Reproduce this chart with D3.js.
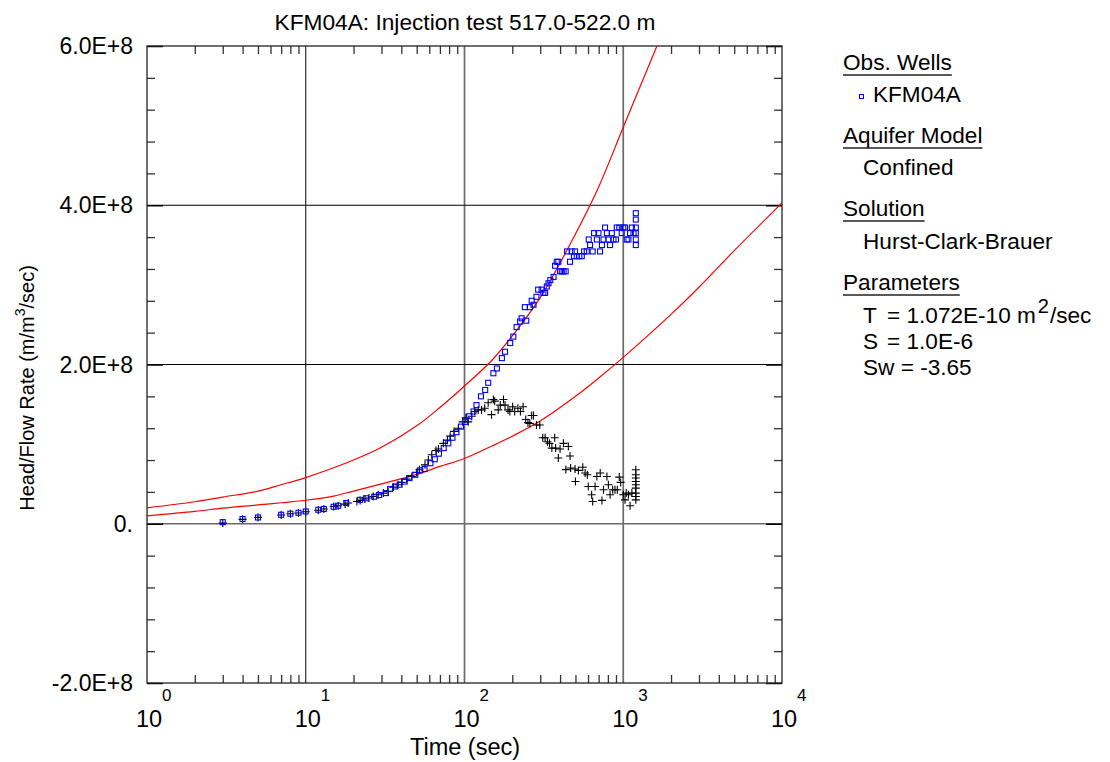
<!DOCTYPE html>
<html>
<head>
<meta charset="utf-8">
<script src="https://cdn.jsdelivr.net/npm/d3@7"></script>
<style>
  body { margin: 0; background: #fff; }
  svg text { font-family: Arial, "Liberation Sans", sans-serif; fill: #000; }
</style>
</head>
<body>
<svg id="chart" width="1110" height="762"></svg>
<script>
// ---- axis ticks and labels ----
const xMajorTicks = [1, 10, 100, 1000, 10000];
const xTickExponents = ["0", "1", "2", "3", "4"];
const yMajorTicks = [6e8, 4e8, 2e8, 0, -2e8];
const yTickLabels = ["6.0E+8", "4.0E+8", "2.0E+8", "0.", "-2.0E+8"];

// ---- Hurst-Clark-Brauer type curves (time in s, head/flow rate) ----
const hcbTimeA = [1, 2, 3, 5, 7, 10, 20, 30, 50, 70, 100, 150, 200, 300, 500, 700, 1000, 1630];
const hcbCurveA = [2.0e7, 2.76e7, 3.35e7, 4.1e7, 4.9e7, 5.8e7, 8.0e7, 9.6e7, 1.23e8, 1.46e8, 1.73e8, 2.06e8, 2.36e8, 2.84e8, 3.64e8, 4.23e8, 4.98e8, 6.0e8];
const hcbTimeB = [1, 2, 3, 5, 7, 10, 15, 20, 30, 50, 70, 100, 150, 200, 300, 500, 700, 1000, 2000, 3000, 5000, 10000];
const hcbCurveB = [1.0e7, 1.55e7, 1.96e7, 2.36e7, 2.64e7, 2.95e7, 3.48e7, 4.1e7, 5.0e7, 6.2e7, 7.2e7, 8.2e7, 9.8e7, 1.10e8, 1.29e8, 1.6e8, 1.83e8, 2.09e8, 2.63e8, 2.97e8, 3.43e8, 4.03e8];

// ---- KFM04A observations: head / flow rate ----
const obsTime = [3, 4, 5, 7, 8, 9, 10, 12, 13, 15, 16, 18, 22, 24, 27, 29, 32, 34, 36.5, 39,
  42, 45, 49, 52.5, 56, 61, 65, 69, 74, 79, 84, 89, 95, 101, 107, 114, 119, 127, 135, 141,
  152, 160, 172, 180, 194, 203, 213, 224, 229, 240, 245, 258, 265, 272, 284, 291, 306, 314, 322, 330,
  338, 347, 364, 372, 381, 390, 400, 410, 421, 434, 443, 462, 473, 489, 497, 509, 529, 548, 567, 589,
  606, 618, 642, 655, 682, 698, 714, 734, 751, 768, 789, 806, 826, 847, 868, 900, 910, 944, 978, 1000,
  1026, 1052, 1078, 1104, 1133, 1161, 1200, 1200, 1200, 1200, 1200, 1200];
const obsHeadFlow = [2.0e6, 5.9e6, 7.9e6, 1.13e7, 1.26e7, 1.38e7, 1.54e7, 1.76e7, 1.85e7, 2.13e7, 2.26e7, 2.6e7, 3.0e7, 3.2e7, 3.4e7, 3.6e7, 3.85e7, 4.36e7, 4.68e7, 4.9e7,
  5.3e7, 5.74e7, 6.15e7, 6.7e7, 6.87e7, 7.6e7, 8.1e7, 8.8e7, 9.5e7, 1.01e8, 1.08e8, 1.15e8, 1.22e8, 1.28e8, 1.35e8, 1.41e8, 1.49e8, 1.6e8, 1.68e8, 1.77e8,
  1.89e8, 1.95e8, 2.08e8, 2.16e8, 2.27e8, 2.35e8, 2.47e8, 2.54e8, 2.58e8, 2.72e8, 2.55e8, 2.72e8, 2.80e8, 2.75e8, 2.85e8, 2.94e8, 2.94e8, 2.90e8, 2.90e8, 2.98e8,
  3.02e8, 3.06e8, 3.10e8, 3.24e8, 3.29e8, 3.29e8, 3.17e8, 3.17e8, 3.17e8, 3.17e8, 3.42e8, 3.29e8, 3.42e8, 3.36e8, 3.42e8, 3.36e8, 3.36e8, 3.36e8, 3.42e8, 3.42e8,
  3.57e8, 3.50e8, 3.42e8, 3.65e8, 3.57e8, 3.65e8, 3.42e8, 3.50e8, 3.57e8, 3.72e8, 3.65e8, 3.57e8, 3.50e8, 3.65e8, 3.57e8, 3.57e8, 3.72e8, 3.72e8, 3.65e8, 3.72e8,
  3.72e8, 3.57e8, 3.57e8, 3.65e8, 3.72e8, 3.65e8, 3.90e8, 3.82e8, 3.72e8, 3.65e8, 3.57e8, 3.50e8];

// ---- KFM04A derivative ----
const derivTime = [3, 4, 5, 7, 8, 9, 10, 12, 13, 15, 16, 17.7, 18.5, 21, 22, 23.6, 25, 26.6, 28.6, 30.8,
  33, 35.6, 38.2, 40.2, 43.2, 46.5, 50, 52, 56.4, 59.2, 62.2, 66.1, 68.5, 73.6, 78.1, 81.3, 86, 91.5, 97.4, 102,
  105.6, 111, 116, 122, 128, 134, 141, 148, 152, 155, 163, 168, 176, 180, 188, 193, 201, 207, 217, 225,
  234, 243, 251, 258, 265, 272, 284, 298, 311, 322, 333, 343, 355, 370, 375, 390, 400, 420, 435, 451,
  462, 466, 497, 500, 522, 556, 575, 594, 602, 632, 642, 665, 682, 716, 734, 751, 789, 806, 826, 858,
  887, 917, 944, 963, 1000, 1026, 1043, 1078, 1104, 1133, 1200, 1200, 1200, 1200, 1200, 1200, 1200, 1200, 1200];
const derivValue = [0.8e6, 5.5e6, 8.0e6, 1.1e7, 1.25e7, 1.35e7, 1.5e7, 1.7e7, 1.85e7, 2.17e7, 2.26e7, 2.47e7, 2.6e7, 2.8e7, 2.93e7, 3.1e7, 3.23e7, 3.43e7, 3.64e7, 3.85e7,
  4.06e7, 4.6e7, 4.9e7, 5.19e7, 5.6e7, 5.94e7, 6.44e7, 6.78e7, 7.4e7, 8.0e7, 8.66e7, 9.2e7, 9.38e7, 1.01e8, 1.05e8, 1.10e8, 1.16e8, 1.20e8, 1.28e8, 1.33e8,
  1.28e8, 1.35e8, 1.41e8, 1.43e8, 1.43e8, 1.45e8, 1.52e8, 1.37e8, 1.56e8, 1.54e8, 1.43e8, 1.49e8, 1.56e8, 1.49e8, 1.43e8, 1.41e8, 1.47e8, 1.41e8, 1.45e8, 1.41e8,
  1.47e8, 1.31e8, 1.27e8, 1.26e8, 1.36e8, 1.36e8, 1.24e8, 1.24e8, 1.08e8, 1.08e8, 1.03e8, 1.01e8, 9.5e7, 1.08e8, 9.5e7, 8.25e7, 9.38e7, 1.01e8, 6.8e7, 9.7e7,
  8.5e7, 7.0e7, 6.87e7, 5.3e7, 6.7e7, 7.1e7, 6.37e7, 6.15e7, 4.68e7, 3.64e7, 2.8e7, 4.68e7, 5.94e7, 6.37e7, 2.93e7, 4.27e7, 5.94e7, 4.9e7, 3.64e7, 4.27e7,
  4.27e7, 4.27e7, 5.86e7, 5.19e7, 3.64e7, 3.0e7, 3.85e7, 3.64e7, 2.26e7, 3.85e7, 6.78e7, 6.15e7, 5.74e7, 5.3e7, 4.9e7, 4.48e7, 3.85e7, 3.43e7, 3.0e7];

// ---- legend / parameter text ----
const obsWells = ["KFM04A"];
const aquiferModel = "Confined";
const solutionName = "Hurst-Clark-Brauer";
const paramNames = ["T", "S"];
const paramValues = ["= 1.072E-10 m", "= 1.0E-6"];
const paramLastLine = "Sw = -3.65";

// ---- layout ----
const plot = { left: 147, right: 782, top: 46, bottom: 683 };
const svg = d3.select("#chart");

const x = d3.scaleLog().domain([1, 1e4]).range([plot.left, plot.right]);
const y = d3.scaleLinear().domain([-2e8, 6e8]).range([plot.bottom, plot.top]);

svg.append("defs").append("clipPath").attr("id", "plotClip")
  .append("rect")
  .attr("x", plot.left).attr("y", plot.top)
  .attr("width", plot.right - plot.left).attr("height", plot.bottom - plot.top);

// grid lines at interior decades and major head values
const grid = svg.append("g");
grid.selectAll("line.gx").data(xMajorTicks.slice(1, -1)).join("line")
  .attr("class", "gx")
  .attr("x1", d => x(d)).attr("x2", d => x(d))
  .attr("y1", plot.top).attr("y2", plot.bottom)
  .attr("stroke", d => d === 10 ? "#000" : "#6a6a6a")
  .attr("stroke-width", d => d === 10 ? 1 : 1.7);
grid.selectAll("line.gy").data(yMajorTicks.slice(1, -1)).join("line")
  .attr("class", "gy")
  .attr("x1", plot.left).attr("x2", plot.right)
  .attr("y1", d => y(d)).attr("y2", d => y(d))
  .attr("stroke", d => d === 0 ? "#6a6a6a" : "#000")
  .attr("stroke-width", d => d === 0 ? 1.7 : 1);

// minor tick positions
const xMinor = [];
xMajorTicks.slice(0, -1).forEach(d => { for (let k = 2; k < 10; k++) xMinor.push(d * k); });
const yMinor = [];
for (let i = 0; i < yMajorTicks.length - 1; i++) {
  const hi = yMajorTicks[i], lo = yMajorTicks[i + 1];
  for (let k = 1; k < 5; k++) yMinor.push(lo + (hi - lo) * k / 5);
}

function tickAxis(axis, tx, ty, values, size, color, width) {
  svg.append("g")
    .attr("transform", `translate(${tx},${ty})`)
    .call(axis.tickValues(values).tickSize(size).tickFormat(""))
    .call(g => g.select(".domain").remove())
    .call(g => g.selectAll("text").remove())
    .call(g => g.selectAll("line").attr("stroke", color).attr("stroke-width", width));
}
tickAxis(d3.axisBottom(x), 0, plot.bottom, xMinor, -8, "#333", 1.3);
tickAxis(d3.axisTop(x), 0, plot.top, xMinor, -8, "#333", 1.3);
tickAxis(d3.axisLeft(y), plot.left, 0, yMinor, -8, "#333", 1.3);
tickAxis(d3.axisRight(y), plot.right, 0, yMinor, -8, "#333", 1.3);
tickAxis(d3.axisLeft(y), plot.left, 0, yMajorTicks, -16, "#000", 1.5);
tickAxis(d3.axisRight(y), plot.right, 0, yMajorTicks, -16, "#000", 1.5);

// frame
svg.append("rect")
  .attr("x", plot.left).attr("y", plot.top)
  .attr("width", plot.right - plot.left).attr("height", plot.bottom - plot.top)
  .attr("fill", "none").attr("stroke", "#222").attr("stroke-width", 1.3);

// type curves
const line = d3.line().x(d => x(d[0])).y(d => y(d[1])).curve(d3.curveCatmullRom.alpha(0.5));
const curves = svg.append("g").attr("clip-path", "url(#plotClip)");
[[hcbTimeA, hcbCurveA], [hcbTimeB, hcbCurveB]].forEach(([ts, vs]) => {
  curves.append("path")
    .attr("d", line(ts.map((t, i) => [t, vs[i]])))
    .attr("fill", "none").attr("stroke", "#ff0000").attr("stroke-width", 1.2);
});

// derivative points (black crosses)
const plusArm = 4;
svg.append("g").attr("stroke", "#000").attr("stroke-width", 1.1)
  .selectAll("path").data(derivTime.map((t, i) => [t, derivValue[i]])).join("path")
  .attr("d", d => {
    const px = x(d[0]), py = y(d[1]);
    return `M${px - plusArm},${py}H${px + plusArm}M${px},${py - plusArm}V${py + plusArm}`;
  });

// observation points (blue squares)
svg.append("g").attr("stroke", "#0000ff").attr("stroke-width", 1.1).attr("fill", "none")
  .selectAll("rect").data(obsTime.map((t, i) => [t, obsHeadFlow[i]])).join("rect")
  .attr("x", d => x(d[0]) - 2.5).attr("y", d => y(d[1]) - 2.5)
  .attr("width", 5).attr("height", 5);

// y tick labels
svg.append("g").selectAll("text").data(yMajorTicks).join("text")
  .attr("x", 133).attr("y", d => y(d) + 8)
  .attr("text-anchor", "end").attr("font-size", 23)
  .text((d, i) => yTickLabels[i]);

// x tick labels as powers of ten
const xl = svg.append("g");
xl.selectAll("text.base").data(xMajorTicks).join("text")
  .attr("class", "base")
  .attr("x", d => x(d) - 11).attr("y", 727)
  .attr("font-size", 23.5).text("10");
xl.selectAll("text.exp").data(xMajorTicks).join("text")
  .attr("class", "exp")
  .attr("x", d => x(d) + 15).attr("y", 701)
  .attr("font-size", 17).text((d, i) => xTickExponents[i]);

// titles
svg.append("text").attr("x", 465).attr("y", 30).attr("text-anchor", "middle")
  .attr("font-size", 22.7).text("KFM04A: Injection test 517.0-522.0 m");
svg.append("text").attr("x", 465).attr("y", 755).attr("text-anchor", "middle")
  .attr("font-size", 23.5).text("Time (sec)");
const yTitle = svg.append("text")
  .attr("transform", "translate(34,388) rotate(-90)")
  .attr("text-anchor", "middle").attr("font-size", 20);
yTitle.append("tspan").text("Head/Flow Rate (m/m");
yTitle.append("tspan").attr("font-size", 14).attr("dy", -9).text("3");
yTitle.append("tspan").attr("dy", 9).text("/sec)");

// legend
const lg = svg.append("g").attr("font-size", 22.6);
function heading(label, yb) {
  const t = lg.append("text").attr("x", 843).attr("y", yb).text(label);
  const w = t.node().getComputedTextLength();
  lg.append("line").attr("x1", 843).attr("x2", 843 + w)
    .attr("y1", yb + 5).attr("y2", yb + 5)
    .attr("stroke", "#222").attr("stroke-width", 1.3);
}
heading("Obs. Wells", 70);
lg.append("rect").attr("x", 859.5).attr("y", 94.5).attr("width", 4).attr("height", 4)
  .attr("fill", "none").attr("stroke", "#0000ff").attr("stroke-width", 1);
lg.append("text").attr("x", 873).attr("y", 102).text(obsWells[0]);
heading("Aquifer Model", 143);
lg.append("text").attr("x", 863).attr("y", 175).text(aquiferModel);
heading("Solution", 216);
lg.append("text").attr("x", 863).attr("y", 249).text(solutionName);
heading("Parameters", 290);
paramNames.forEach((n, i) => {
  const yb = 323 + i * 26;
  lg.append("text").attr("x", 863).attr("y", yb).text(n);
  const v = lg.append("text").attr("x", 887).attr("y", yb).text(paramValues[i]);
  if (i === 0) {
    v.append("tspan").attr("font-size", 20).attr("dx", 2).attr("dy", -10).text("2");
    v.append("tspan").attr("dx", 1).attr("dy", 10).text("/sec");
  }
});
lg.append("text").attr("x", 863).attr("y", 375).text(paramLastLine);
</script>
</body>
</html>
